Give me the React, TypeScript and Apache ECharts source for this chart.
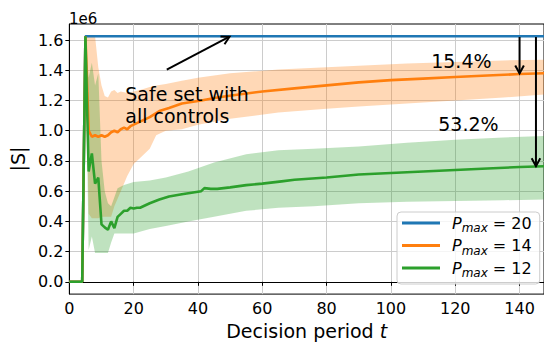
import React, { useEffect, useRef } from 'react';
import * as echarts from 'echarts';

const FONT = 'DejaVu Sans';

// x extent / y ticks (|S| in units of 1e6)
const X_MAX = 147.6;
const yTicks = [0, 0.2, 0.4, 0.6, 0.8, 1.0, 1.2, 1.4, 1.6];

// P_max = 20
const tBlue = [0, 4, 5, 147.6];
const blueMean = [0, 0, 1.625, 1.625];

// P_max = 14
const tOrange = [0, 1, 2, 3, 4, 5, 6, 7, 8, 9, 10, 11, 12, 13, 14, 15, 16, 17, 18, 19, 20, 22, 25, 28, 31, 35, 41, 46, 51, 60, 70, 80, 90, 100, 110, 120, 130, 140, 147.6];
const orangeMean = [0, 0, 0, 0, 0, 1.625, 1.0, 0.96, 0.97, 0.96, 0.97, 0.96, 0.97, 0.99, 1.0, 0.99, 1.01, 1.02, 1.01, 1.03, 1.04, 1.06, 1.09, 1.13, 1.15, 1.18, 1.2, 1.22, 1.235, 1.26, 1.28, 1.3, 1.32, 1.335, 1.345, 1.355, 1.365, 1.375, 1.38];
const tOrangeBand = [0, 4, 5, 6, 7, 8, 9, 10, 11, 12, 13, 14, 15, 16, 18, 20, 22, 25, 27, 30, 35, 40, 50, 65, 80, 90, 105, 120, 135, 147.6];
const orangeUp = [0, 0, 1.625, 1.625, 1.625, 1.625, 1.42, 1.3, 1.23, 1.22, 1.26, 1.27, 1.25, 1.26, 1.25, 1.26, 1.27, 1.29, 1.3, 1.31, 1.33, 1.35, 1.38, 1.405, 1.42, 1.43, 1.445, 1.455, 1.465, 1.47];
const orangeLow = [0, 0, 1.625, 0.45, 0.42, 0.42, 0.42, 0.43, 0.43, 0.43, 0.43, 0.5, 0.55, 0.6, 0.7, 0.78, 0.82, 0.88, 0.97, 1.0, 1.01, 1.04, 1.08, 1.12, 1.145, 1.16, 1.18, 1.2, 1.22, 1.24];

// P_max = 12
const tGreen = [0, 1, 2, 3, 4, 5, 6, 7, 8, 9, 10, 11, 12, 13, 14, 15, 16, 17, 18, 19, 20, 21, 22, 23, 25, 28, 31, 35, 38, 41, 42, 44, 46, 50, 55, 60, 66, 70, 80, 90, 100, 110, 120, 130, 140, 147.6];
const greenMean = [0, 0, 0, 0, 0, 1.625, 0.73, 0.85, 0.65, 0.69, 0.38, 0.36, 0.345, 0.4, 0.355, 0.43, 0.45, 0.47, 0.47, 0.49, 0.485, 0.49, 0.49, 0.5, 0.52, 0.545, 0.565, 0.58, 0.59, 0.6, 0.62, 0.615, 0.615, 0.625, 0.64, 0.65, 0.665, 0.675, 0.69, 0.71, 0.72, 0.73, 0.74, 0.75, 0.76, 0.765];
const tGreenBand = [0, 4, 5, 6, 7, 8, 9, 10, 11, 12, 13, 14, 15, 17, 20, 25, 30, 37, 45, 55, 65, 76, 90, 105, 120, 135, 147.6];
const greenUp = [0, 0, 1.625, 1.35, 1.45, 1.3, 1.38, 0.8, 0.6, 0.52, 0.5, 0.56, 0.62, 0.64, 0.66, 0.67, 0.69, 0.73, 0.79, 0.845, 0.87, 0.88, 0.895, 0.92, 0.94, 0.955, 0.965];
const greenLow = [0, 0, 1.625, 0.21, 0.3, 0.19, 0.19, 0.19, 0.19, 0.19, 0.26, 0.32, 0.32, 0.32, 0.32, 0.35, 0.37, 0.4, 0.43, 0.47, 0.49, 0.5, 0.52, 0.53, 0.535, 0.54, 0.545];

// annotations: arrows [x1, y1, x2, y2], texts [x, y]
const arrows = [
  [30.3, 1.405, 49.8, 1.622],
  [140, 1.62, 140, 1.38],
  [145.1, 1.62, 145.1, 0.765],
];
const texts = ['Safe set with\nall controls', '15.4%', '53.2%'];
const textPos = [
  [17.4, 1.171],
  [121.9, 1.464],
  [124.1, 1.044],
];
const textAlign = ['left', 'center', 'center'];

const legendNames = ['p20', 'p14', 'p12'];
const legendValues = ['20', '14', '12'];

const BLUE = '#1f77b4';
const ORANGE = '#ff7f0e';
const GREEN = '#2ca02c';

function pairs(xs: number[], ys: number[]) {
  return xs.map((x, i) => [x, ys[i]]);
}

function bandSeries(name: string, xs: number[], low: number[], up: number[], color: string) {
  return {
    type: 'custom',
    name,
    z: 1,
    silent: true,
    encode: { x: 0, y: [1, 2] },
    data: xs.map((x, i) => [x, low[i], up[i]]),
    renderItem: (params: any, api: any) => {
      if (params.dataIndex !== 0) return null;
      const top = xs.map((x, i) => api.coord([x, up[i]]));
      const bottom = xs.map((x, i) => api.coord([x, low[i]])).reverse();
      return {
        type: 'polygon',
        shape: { points: top.concat(bottom) },
        style: { fill: color, stroke: null },
      };
    },
  };
}

function meanSeries(name: string, xs: number[], ys: number[], color: string) {
  return {
    type: 'line',
    name,
    data: pairs(xs, ys),
    symbol: 'none',
    lineStyle: { color, width: 2.6 },
    itemStyle: { color },
    z: 2,
  };
}

export default function App() {
  const ref = useRef<HTMLDivElement>(null);

  useEffect(() => {
    document.body.style.margin = '0';
    if (!ref.current) return;
    const chart = echarts.init(ref.current, undefined, { renderer: 'svg' });

    const option: any = {
      animation: false,
      grid: {
        left: 68,
        top: 24,
        right: -1,
        bottom: 42,
        show: true,
        borderColor: '#000',
        borderWidth: 1,
        backgroundColor: 'transparent',
      },
      xAxis: {
        type: 'value',
        min: 0,
        max: X_MAX,
        interval: 20,
        axisLine: { show: true, lineStyle: { color: '#000', width: 1 } },
        axisTick: { show: true, length: 4, lineStyle: { color: '#000' } },
        axisLabel: {
          showMaxLabel: false,
          fontSize: 16,
          fontFamily: FONT,
          color: '#000',
          margin: 6,
        },
        splitLine: { show: true, lineStyle: { color: '#cccccc', width: 1 } },
        name: 'Decision period {i|t}',
        nameLocation: 'middle',
        nameGap: 20,
        nameTextStyle: {
          fontSize: 19,
          fontFamily: FONT,
          color: '#000',
          rich: { i: { fontStyle: 'italic', fontSize: 19, fontFamily: FONT, color: '#000' } },
        },
      },
      yAxis: {
        type: 'value',
        min: -0.08125,
        max: 1.70625,
        axisLine: { show: true, lineStyle: { color: '#000', width: 1 } },
        axisTick: { show: true, length: 4, lineStyle: { color: '#000' }, customValues: yTicks },
        axisLabel: {
          customValues: yTicks,
          formatter: (v: number) => v.toFixed(1),
          fontSize: 16,
          fontFamily: FONT,
          color: '#000',
          margin: 6,
        },
        splitLine: { show: true, lineStyle: { color: '#cccccc', width: 1 } },
        name: '|S|',
        nameLocation: 'middle',
        nameRotate: 90,
        nameGap: 27,
        nameTextStyle: { fontSize: 19, fontFamily: FONT, color: '#000' },
      },
      legend: {
        data: legendNames,
        orient: 'vertical',
        left: 397,
        top: 212,
        icon: 'rect',
        itemWidth: 38,
        itemHeight: 3,
        itemGap: 3.5,
        padding: [3, 8, 5, 5],
        borderColor: '#cccccc',
        borderWidth: 1,
        borderRadius: 4,
        backgroundColor: 'rgba(255,255,255,0.8)',
        formatter: (name: string) => {
          const v = legendValues[legendNames.indexOf(name)];
          return '{g|}{p|P}{s|max}{n| = ' + v + '}';
        },
        textStyle: {
          fontFamily: FONT,
          fontSize: 16,
          color: '#000',
          rich: {
            g: { width: 7, lineHeight: 22 },
            p: { fontStyle: 'italic', fontSize: 16, fontFamily: FONT, lineHeight: 22, verticalAlign: 'middle', color: '#000' },
            s: { fontStyle: 'italic', fontSize: 12, fontFamily: FONT, lineHeight: 12, verticalAlign: 'bottom', color: '#000' },
            n: { fontSize: 16, fontFamily: FONT, lineHeight: 22, verticalAlign: 'middle', color: '#000' },
          },
        },
      },
      graphic: [
        {
          type: 'text',
          left: 69,
          top: 11,
          style: { text: '1e6', fontSize: 15, fontFamily: FONT, fill: '#000' },
        },
      ],
      series: [
        bandSeries('ob', tOrangeBand, orangeLow, orangeUp, 'rgba(255,127,14,0.3)'),
        bandSeries('gb', tGreenBand, greenLow, greenUp, 'rgba(44,160,44,0.3)'),
        meanSeries('p20', tBlue, blueMean, BLUE),
        meanSeries('p14', tOrange, orangeMean, ORANGE),
        meanSeries('p12', tGreen, greenMean, GREEN),
        {
          type: 'custom',
          name: 'arrows',
          z: 3,
          silent: true,
          clip: false,
          encode: { x: [0, 2], y: [1, 3] },
          data: arrows,
          renderItem: (_p: any, api: any) => {
            const a = api.coord([api.value(0), api.value(1)]);
            const b = api.coord([api.value(2), api.value(3)]);
            const ang = Math.atan2(b[1] - a[1], b[0] - a[0]);
            const L = 9;
            const w = 0.5;
            const h1 = [b[0] - L * Math.cos(ang - w), b[1] - L * Math.sin(ang - w)];
            const h2 = [b[0] - L * Math.cos(ang + w), b[1] - L * Math.sin(ang + w)];
            return {
              type: 'group',
              children: [
                {
                  type: 'line',
                  shape: { x1: a[0], y1: a[1], x2: b[0], y2: b[1] },
                  style: { stroke: '#000', lineWidth: 2 },
                },
                {
                  type: 'polyline',
                  shape: { points: [h1, b, h2] },
                  style: { stroke: '#000', lineWidth: 2, fill: null },
                },
              ],
            };
          },
        },
        {
          type: 'custom',
          name: 'texts',
          z: 3,
          silent: true,
          clip: false,
          encode: { x: 0, y: 1 },
          data: textPos.map((p, i) => [p[0], p[1], i]),
          renderItem: (_p: any, api: any) => {
            const i = api.value(2);
            const c = api.coord([api.value(0), api.value(1)]);
            return {
              type: 'text',
              x: c[0],
              y: c[1],
              style: {
                text: texts[i],
                fontSize: 19,
                fontFamily: FONT,
                fill: '#000',
                align: textAlign[i],
                verticalAlign: 'middle',
                lineHeight: 22,
              },
            };
          },
        },
      ],
    };

    chart.setOption(option);
    return () => chart.dispose();
  }, []);

  return <div ref={ref} style={{ width: 544, height: 345 }} />;
}
